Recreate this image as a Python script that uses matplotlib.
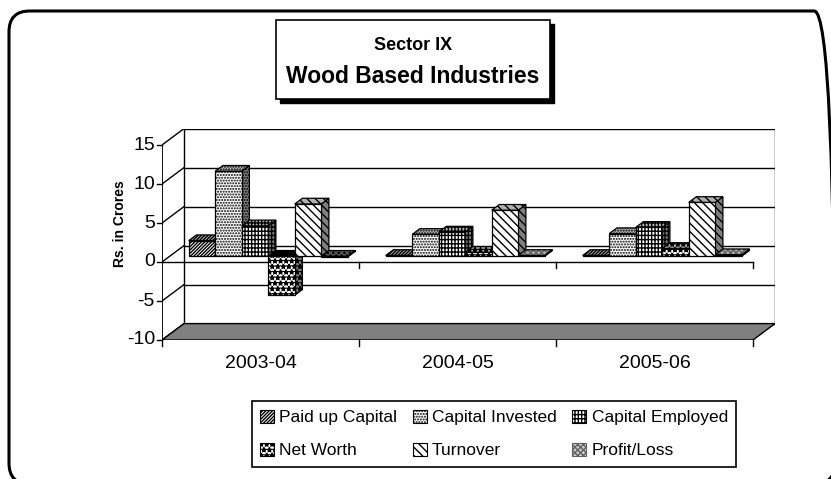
import matplotlib
matplotlib.use("Agg")
import matplotlib.pyplot as plt
from matplotlib.patches import Polygon, Patch, Rectangle, FancyBboxPatch

plt.rcParams['font.family'] = ['Liberation Sans', 'DejaVu Sans']
plt.rcParams['hatch.linewidth'] = 1.0

# data (Rs. in Crores)
years = ['2003-04', '2004-05', '2005-06']
series = ['Paid up Capital', 'Capital Invested', 'Capital Employed',
          'Net Worth', 'Turnover', 'Profit/Loss']
paid_up = [2.0, 0.1, 0.1]
cap_invested = [10.9, 2.8, 2.9]
cap_employed = [3.9, 3.1, 3.7]
net_worth = [-5.0, 0.5, 1.0]
turnover = [6.7, 5.9, 6.9]
profit_loss = [-0.1, 0.1, 0.2]
values = [paid_up, cap_invested, cap_employed, net_worth, turnover, profit_loss]
y_ticks = [-10, -5, 0, 5, 10, 15]

# look of each series: hatch, hatch colour, front face colour
hatches = ['//////////', '......', '|||||----', '***', '\\\\\\\\', 'xxxxxx']
hatch_cols = ['black', 'black', 'black', 'black', 'black', '#606060']
front_cols = ['white', 'white', 'white', 'white', 'white', '#d0d0d0']

W, H = 831, 479
fig = plt.figure(figsize=(W / 100, H / 100), dpi=100)


def fx(px):
    return px / W


def fy(py):
    return 1 - py / H


# pseudo-3d geometry (pixels -> data units)
PX_CAT = 197.0
PX_UNIT = 7.8
DX = 22 / PX_CAT
DY = 16.4 / PX_UNIT
ax = fig.add_axes([fx(162), fy(340), (775 - 162) / W, (340 - 129) / H])
ax.set_xlim(0, 613 / PX_CAT)
ax.set_ylim(-10, -10 + 211 / PX_UNIT)
ax.axis('off')
ncat = len(years)
ymin, ymax = y_ticks[0], y_ticks[-1]

# walls and gridlines
lw = 1.0
ax.plot([DX, DX], [ymin + DY, ymax + DY], color='black', lw=lw, zorder=1)
ax.plot([ncat + DX, ncat + DX], [ymin + DY, ymax + DY], color='black', lw=lw, zorder=1)
for v in y_ticks:
    ax.plot([DX, ncat + DX], [v + DY, v + DY], color='black', lw=lw, zorder=1)
    ax.plot([0, DX], [v, v + DY], color='black', lw=lw, zorder=1)
ax.add_patch(Polygon([(0, ymin), (ncat, ymin), (ncat + DX, ymin + DY), (DX, ymin + DY)],
                     closed=True, facecolor='#808080', edgecolor='black', lw=lw, zorder=1.2))
ax.plot([0, 0], [ymin, ymax], color='black', lw=1.3, zorder=1.3)
ax.plot([0, ncat], [0, 0], color='black', lw=lw, zorder=1.3)
tick_x = 5 / PX_CAT
tick_y = 6 / PX_UNIT
for v in y_ticks:
    ax.plot([-tick_x, 0], [v, v], color='black', lw=lw, zorder=1.3, clip_on=False)
    ax.text(-tick_x - 2 / PX_CAT, v, str(v), ha='right', va='center', fontsize=14)
for i in range(1, ncat + 1):
    ax.plot([i, i], [0, -tick_y], color='black', lw=lw, zorder=1.3)
    ax.plot([i, i], [ymin, ymin - tick_y], color='black', lw=lw, zorder=1.3, clip_on=False)
ax.plot([0, 0], [ymin, ymin - tick_y], color='black', lw=lw, clip_on=False)
for i, yr in enumerate(years):
    ax.text(i + 0.5, ymin - 24 / PX_UNIT, yr, ha='center', va='center', fontsize=14)

ax.text(-42 / PX_CAT, 4.9, 'Rs. in Crores', rotation=90, ha='center', va='center',
        fontsize=10, fontweight='bold')

# bars
bw = 26.5 / PX_CAT
g0 = (1 - bw * len(series)) / 2
f0, f1 = 0.35, 0.70
d = f1 - f0


def face(pts, fc, hc, hatch, z):
    ax.add_patch(Polygon(pts, closed=True, facecolor=fc, edgecolor=hc, hatch=hatch,
                         lw=0, zorder=z))
    ax.add_patch(Polygon(pts, closed=True, fill=False, edgecolor='black', lw=0.9, zorder=z))


z = 2
for i in range(ncat):
    for j, vals in enumerate(values):
        v = vals[i]
        x0 = i + g0 + j * bw + f0 * DX
        yb = f0 * DY
        lo, hi = yb + min(v, 0), yb + max(v, 0)
        ddx, ddy = d * DX, d * DY
        side = [(x0 + bw, lo), (x0 + bw, hi), (x0 + bw + ddx, hi + ddy), (x0 + bw + ddx, lo + ddy)]
        top = [(x0, hi), (x0 + bw, hi), (x0 + bw + ddx, hi + ddy), (x0 + ddx, hi + ddy)]
        front = [(x0, lo), (x0 + bw, lo), (x0 + bw, hi), (x0, hi)]
        top_fc = 'black' if v < 0 else '#b0b0b0'
        face(side, '#808080', hatch_cols[j], hatches[j], z)
        face(top, top_fc, hatch_cols[j], hatches[j], z + 0.1)
        if v != 0:
            face(front, front_cols[j], hatch_cols[j], hatches[j], z + 0.2)
        z += 0.5

# outer rounded frame
fig.patches.append(FancyBboxPatch((fx(9), fy(484)), fx(826), 473 / H,
                                  boxstyle='round,pad=0,rounding_size=0.025',
                                  transform=fig.transFigure, fill=False,
                                  edgecolor='black', lw=2.2, mutation_aspect=W / H))

# title box with shadow
fig.patches.append(Rectangle((fx(280), fy(103)), fx(274), 79 / H, transform=fig.transFigure,
                             facecolor='black', edgecolor='black', zorder=5))
fig.patches.append(Rectangle((fx(276), fy(99)), fx(274), 79 / H, transform=fig.transFigure,
                             facecolor='white', edgecolor='black', lw=1.2, zorder=6))
fig.text(fx(413), fy(45), 'Sector IX', ha='center', va='center', fontsize=13,
         fontweight='bold', zorder=7)
fig.text(fx(413), fy(76), 'Wood Based Industries', ha='center', va='center', fontsize=16.5,
         fontweight='bold', zorder=7)

# legend, filled row-wise
handles = [Patch(facecolor=front_cols[j], edgecolor=hatch_cols[j], hatch=hatches[j], lw=0.8)
           for j in range(len(series))]
order = [0, 3, 1, 4, 2, 5]
leg = fig.legend([handles[k] for k in order], [series[k] for k in order], ncol=3,
                 loc='center', bbox_to_anchor=(fx(494), fy(434)), fontsize=12.5,
                 frameon=True, fancybox=False, edgecolor='black', framealpha=1,
                 handlelength=0.8, handleheight=0.8, handletextpad=0.3,
                 columnspacing=0.9, borderpad=0.5, labelspacing=1.0)
leg.get_frame().set_linewidth(1.2)

fig.savefig('out.png', dpi=100)
